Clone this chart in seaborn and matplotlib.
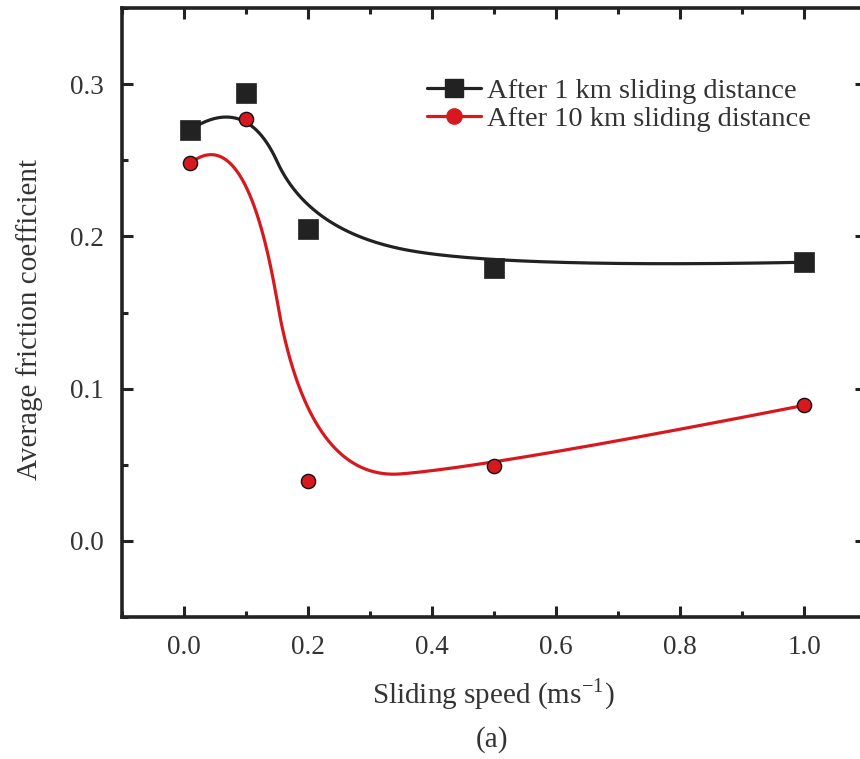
import numpy as np
import pandas as pd
import matplotlib
matplotlib.use("Agg")
import matplotlib.pyplot as plt
from matplotlib.lines import Line2D
import seaborn as sns

# ---- data ----
speed = [0.01, 0.1, 0.2, 0.5, 1.0]
mu_1km = [0.270, 0.294, 0.2046, 0.179, 0.183]
mu_10km = [0.248, 0.277, 0.039, 0.049, 0.089]
series_names = ["After 1 km sliding distance", "After 10 km sliding distance"]
xticks = [0.0, 0.2, 0.4, 0.6, 0.8, 1.0]
yticks = [0.0, 0.1, 0.2, 0.3]


def quad_bspline(xs, ys, n=400):
    """Clamped quadratic B-spline using data points as control points."""
    P = np.column_stack([xs, ys]).astype(float)
    k = 2
    m = len(P)
    inner = np.linspace(0, 1, m - k + 1)
    knots = np.concatenate([[0] * k, inner, [1] * k])
    ts = np.linspace(0, 1, n)
    out = []
    for t in ts:
        if t >= 1:
            s = m - 1
        else:
            s = np.searchsorted(knots, t, side="right") - 1
        d = [P[j + s - k].copy() for j in range(k + 1)]
        for r in range(1, k + 1):
            for j in range(k, r - 1, -1):
                i = j + s - k
                denom = knots[i + k + 1 - r] - knots[i]
                a = 0 if denom == 0 else (t - knots[i]) / denom
                d[j] = (1 - a) * d[j - 1] + a * d[j]
        out.append(d[k])
    out = np.array(out)
    return out[:, 0], out[:, 1]


sns.set_style("ticks")
plt.rcParams["font.family"] = ["Liberation Serif", "DejaVu Serif"]
plt.rcParams["mathtext.fontset"] = "stix"

fig = plt.figure(figsize=(8.6, 7.59), dpi=100)
ax = fig.add_axes([122 / 860, (759 - 617) / 759, (866 - 122) / 860, (617 - 8) / 759])

black = "#222222"
red = "#d7191f"
txt = "#333333"

sx1, sy1 = quad_bspline(speed, mu_1km)
sx2, sy2 = quad_bspline(speed, mu_10km)
curves = pd.DataFrame({"x": np.concatenate([sx1, sx2]),
                       "y": np.concatenate([sy1, sy2]),
                       "s": [series_names[0]] * len(sx1) + [series_names[1]] * len(sx2)})
sns.lineplot(data=curves, x="x", y="y", hue="s", palette=[black, red], sort=False,
             linewidth=2.3, legend=False, ax=ax)

pts1 = pd.DataFrame({"x": speed, "y": mu_1km})
pts2 = pd.DataFrame({"x": speed, "y": mu_10km})
sns.scatterplot(data=pts1, x="x", y="y", marker="s", s=190, color=black,
                edgecolor=black, linewidth=0.5, ax=ax, zorder=3)
sns.scatterplot(data=pts2, x="x", y="y", marker="o", s=105, color=red,
                edgecolor="#111111", linewidth=1.0, ax=ax, zorder=4)

ax.set_xlim(-0.1, 1.1)
ax.set_ylim(-0.05, 0.35)
ax.set_xticks(xticks)
ax.set_yticks(yticks)
ax.set_xticklabels([f"{v:.1f}" for v in xticks])
ax.set_yticklabels([f"{v:.1f}" for v in yticks])
ax.xaxis.set_minor_locator(matplotlib.ticker.MultipleLocator(0.1))
ax.yaxis.set_minor_locator(matplotlib.ticker.MultipleLocator(0.05))
ax.tick_params(which="both", direction="in", top=True, right=True, width=2.2, colors=black,
               labelsize=19.5, labelcolor=txt)
ax.tick_params(which="major", length=8, pad=13)
ax.tick_params(which="minor", length=4)
for sp in ax.spines.values():
    sp.set_linewidth(2.6)
    sp.set_color(black)
    sp.set_visible(True)
ax.set_xlabel("")
ax.set_ylabel("")

fig.text(30 / 860, 1 - 320 / 759, "Average friction coefficient", rotation=90,
         ha="center", va="center", fontsize=21, color=txt)
fig.text(493 / 860, 1 - 695 / 759, r"Sliding speed (ms$^{\mathregular{-1}}$)",
         ha="center", va="center", fontsize=21, color=txt)
fig.text(492 / 860, 1 - 740 / 759, "(a)", ha="center", va="center", fontsize=21,
         color=txt)

handles = [Line2D([], [], color=black, lw=2.3, marker="s", markersize=12.5),
           Line2D([], [], color=red, lw=2.3, marker="o", markersize=11,
                  markeredgecolor=red)]
ax.legend(handles, series_names, loc="upper left", bbox_to_anchor=(427 / 860, 1 - 78 / 759),
          bbox_transform=fig.transFigure, borderaxespad=0, borderpad=0,
          frameon=False, fontsize=20.5, handlelength=1.9, handletextpad=0.22,
          labelspacing=0.08, labelcolor=txt)

fig.savefig("out.png", dpi=100)
